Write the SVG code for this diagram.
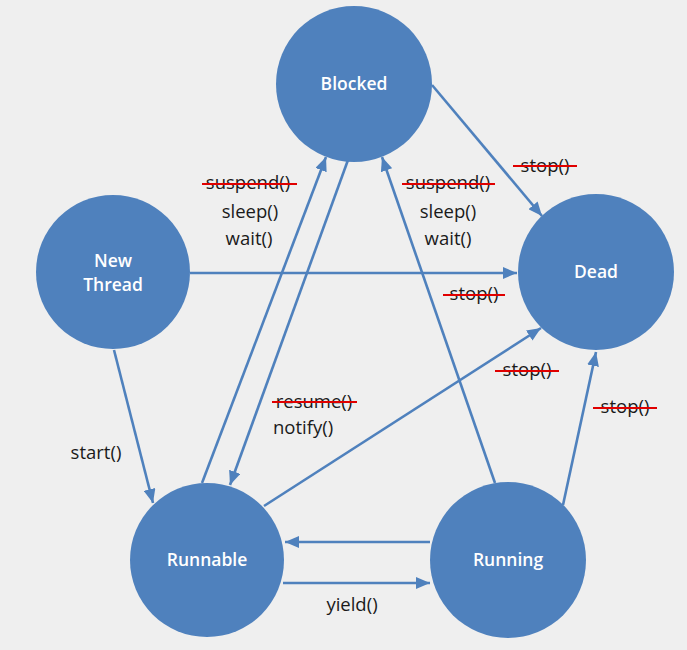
<svg xmlns="http://www.w3.org/2000/svg" width="687" height="650" viewBox="0 0 687 650">
<style>
.node{fill:#4F81BD;}
.nl{font-family:"Open Sans","DejaVu Sans",sans-serif;font-size:17.5px;font-weight:600;fill:#FFFFFF;text-anchor:middle;}
.lb{font-family:"Open Sans","DejaVu Sans",sans-serif;font-size:18.5px;fill:#1A1A1A;text-anchor:middle;}
.edge{stroke:#4F81BD;stroke-width:2.6;fill:none;marker-end:url(#ah);}
.strike{stroke:#E00000;stroke-width:2.2;}
</style>
<defs>
<marker id="ah" viewBox="0 0 14 12" refX="14" refY="6" markerWidth="14" markerHeight="12" markerUnits="userSpaceOnUse" orient="auto">
<path d="M0,0 L14,6 L0,12 z" fill="#4F81BD"/>
</marker>
</defs>
<rect width="687" height="650" fill="#EFEFEF"/>
<g id="connectors">
<line class="edge" x1="432" y1="85" x2="542" y2="216"/>
<line class="edge" x1="190" y1="273" x2="517" y2="273"/>
<line class="edge" x1="114" y1="350" x2="153" y2="503"/>
<line class="edge" x1="202" y1="483" x2="326" y2="157"/>
<line class="edge" x1="348" y1="160" x2="230" y2="485"/>
<line class="edge" x1="495" y1="483" x2="382" y2="157"/>
<line class="edge" x1="264" y1="506" x2="541" y2="328"/>
<line class="edge" x1="563" y1="505" x2="596" y2="352"/>
<line class="edge" x1="430" y1="542" x2="285" y2="542"/>
<line class="edge" x1="283" y1="583" x2="430" y2="583"/>
</g>
<g id="labels">
<text class="lb" x="248" y="189">suspend()</text>
<line class="strike" x1="202" y1="184" x2="297" y2="184"/>
<text class="lb" x="250" y="218">sleep()</text>
<text class="lb" x="249" y="245">wait()</text>
<text class="lb" x="448" y="189">suspend()</text>
<line class="strike" x1="402" y1="184" x2="495" y2="184"/>
<text class="lb" x="448" y="218">sleep()</text>
<text class="lb" x="448" y="245">wait()</text>
<text class="lb" x="545" y="172">stop()</text>
<line class="strike" x1="513" y1="166" x2="577" y2="166"/>
<text class="lb" x="474" y="300">stop()</text>
<line class="strike" x1="443" y1="295" x2="505" y2="295"/>
<text class="lb" x="527" y="376">stop()</text>
<line class="strike" x1="495" y1="371" x2="559" y2="371"/>
<text class="lb" x="625" y="413">stop()</text>
<line class="strike" x1="593" y1="408" x2="657" y2="408"/>
<text class="lb" x="314" y="408">resume()</text>
<line class="strike" x1="272" y1="402" x2="357" y2="402"/>
<text class="lb" x="273" y="434" style="text-anchor:start">notify()</text>
<text class="lb" x="96" y="459">start()</text>
<text class="lb" x="352" y="611">yield()</text>
</g>
<g id="node-blocked">
<circle class="node" cx="354" cy="84" r="78"/>
<text class="nl" x="354" y="90">Blocked</text>
</g>
<g id="node-newthread">
<circle class="node" cx="113" cy="272" r="77"/>
<text class="nl" x="113" y="267">New</text>
<text class="nl" x="113" y="291">Thread</text>
</g>
<g id="node-dead">
<circle class="node" cx="596" cy="272" r="78"/>
<text class="nl" x="596" y="278">Dead</text>
</g>
<g id="node-runnable">
<circle class="node" cx="207" cy="560" r="77"/>
<text class="nl" x="207" y="566">Runnable</text>
</g>
<g id="node-running">
<circle class="node" cx="508" cy="560" r="78"/>
<text class="nl" x="508" y="566">Running</text>
</g>
</svg>
